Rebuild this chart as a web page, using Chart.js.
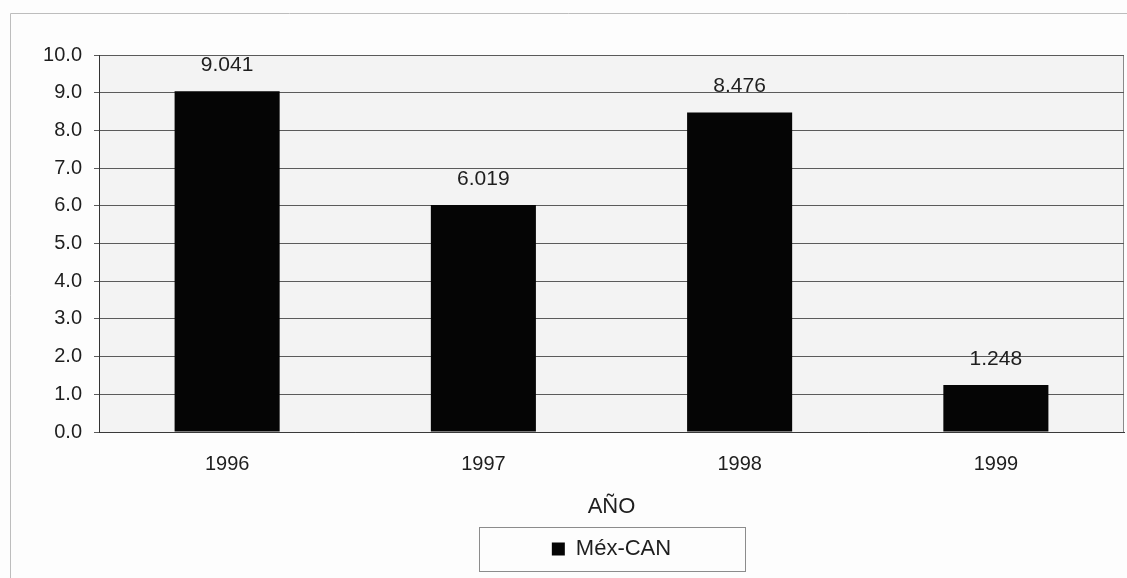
<!DOCTYPE html>
<html>
<head>
<meta charset="utf-8">
<script src="https://cdn.jsdelivr.net/npm/chart.js@4/dist/chart.umd.min.js"></script>
<style>
  html, body { margin: 0; padding: 0; background: #fdfdfd; }
  #wrap { position: relative; width: 1127px; height: 578px; }
  canvas { display: block; }
</style>
</head>
<body>
<div id="wrap"><canvas id="c" width="1127" height="578"></canvas></div>
<script>
// Exports Mexico -> CAN per year
const years = ['1996', '1997', '1998', '1999'];
const mexCan = [9.041, 6.019, 8.476, 1.248];
const yTicks = [0, 1, 2, 3, 4, 5, 6, 7, 8, 9, 10];
const seriesName = 'Méx-CAN';
const axisTitle = 'AÑO';

const FONT = '"Liberation Sans", Arial, sans-serif';
const INK = '#1e1e1e';

// Page frame, plot background and plot-area right border
const framePlugin = {
  id: 'frame',
  beforeDraw(chart) {
    const { ctx, chartArea: a } = chart;
    ctx.save();
    ctx.strokeStyle = '#bdbdbd';
    ctx.lineWidth = 1;
    ctx.beginPath();
    ctx.moveTo(10.5, 578);
    ctx.lineTo(10.5, 13.5);
    ctx.lineTo(1127, 13.5);
    ctx.stroke();
    ctx.fillStyle = '#f3f3f3';
    ctx.fillRect(a.left, a.top, a.right - a.left, a.bottom - a.top);
    ctx.strokeStyle = '#8a8a8a';
    ctx.beginPath();
    ctx.moveTo(a.right - 0.5, a.top);
    ctx.lineTo(a.right - 0.5, a.bottom);
    ctx.stroke();
    ctx.restore();
  }
};

// Value labels above each bar
const valueLabels = {
  id: 'valueLabels',
  afterDatasetsDraw(chart) {
    const { ctx } = chart;
    const meta = chart.getDatasetMeta(0);
    const data = chart.data.datasets[0].data;
    ctx.save();
    ctx.font = '21px ' + FONT;
    ctx.fillStyle = INK;
    ctx.textAlign = 'center';
    ctx.textBaseline = 'alphabetic';
    meta.data.forEach((bar, i) => {
      ctx.fillText(data[i].toFixed(3), bar.x, bar.y - 20);
    });
    ctx.restore();
  }
};

// Border around the legend
const legendBox = {
  id: 'legendBox',
  afterDraw(chart) {
    const lg = chart.legend;
    if (!lg || !lg.legendHitBoxes || !lg.legendHitBoxes.length) return;
    const hb = lg.legendHitBoxes[0];
    const cx = (chart.chartArea.left + chart.chartArea.right) / 2;
    const cy = hb.top + hb.height / 2;
    const w = 266, h = 44;
    const ctx = chart.ctx;
    ctx.save();
    ctx.strokeStyle = '#8c8c8c';
    ctx.lineWidth = 1;
    ctx.strokeRect(Math.round(cx - w / 2) + 0.5, Math.round(cy - h / 2) + 0.5, w, h);
    ctx.restore();
  }
};

new Chart(document.getElementById('c'), {
  type: 'bar',
  data: {
    labels: years,
    datasets: [{
      label: seriesName,
      data: mexCan,
      backgroundColor: '#050505',
      borderWidth: 0,
      barPercentage: 0.41,
      categoryPercentage: 1.0
    }]
  },
  options: {
    responsive: false,
    animation: false,
    devicePixelRatio: 1,
    layout: { padding: { top: 55, left: 0, right: 3, bottom: 8 } },
    plugins: {
      tooltip: { enabled: false },
      legend: {
        position: 'bottom',
        fullSize: false,
        labels: {
          boxWidth: 13,
          boxHeight: 13,
          padding: 10,
          color: INK,
          font: { family: FONT, size: 22 }
        }
      }
    },
    scales: {
      x: {
        grid: { display: false, drawTicks: false },
        border: { display: true, color: '#3a3a3a', width: 1 },
        ticks: { color: INK, padding: 20, font: { family: FONT, size: 20 } },
        title: {
          display: true,
          text: axisTitle,
          color: INK,
          padding: { top: 4, bottom: 8 },
          font: { family: FONT, size: 22 }
        },
        afterFit(scale) { scale.height = 96; }
      },
      y: {
        min: 0,
        max: 10,
        afterBuildTicks(scale) { scale.ticks = yTicks.map(v => ({ value: v })); },
        grid: { color: '#5a5a5a', lineWidth: 1, tickLength: 5 },
        border: { display: true, color: '#333333', width: 1 },
        ticks: {
          color: INK,
          padding: 12,
          font: { family: FONT, size: 20 },
          callback: v => Number(v).toFixed(1)
        },
        afterFit(scale) { scale.width = 99; }
      }
    }
  },
  plugins: [framePlugin, valueLabels, legendBox]
});
</script>
</body>
</html>
